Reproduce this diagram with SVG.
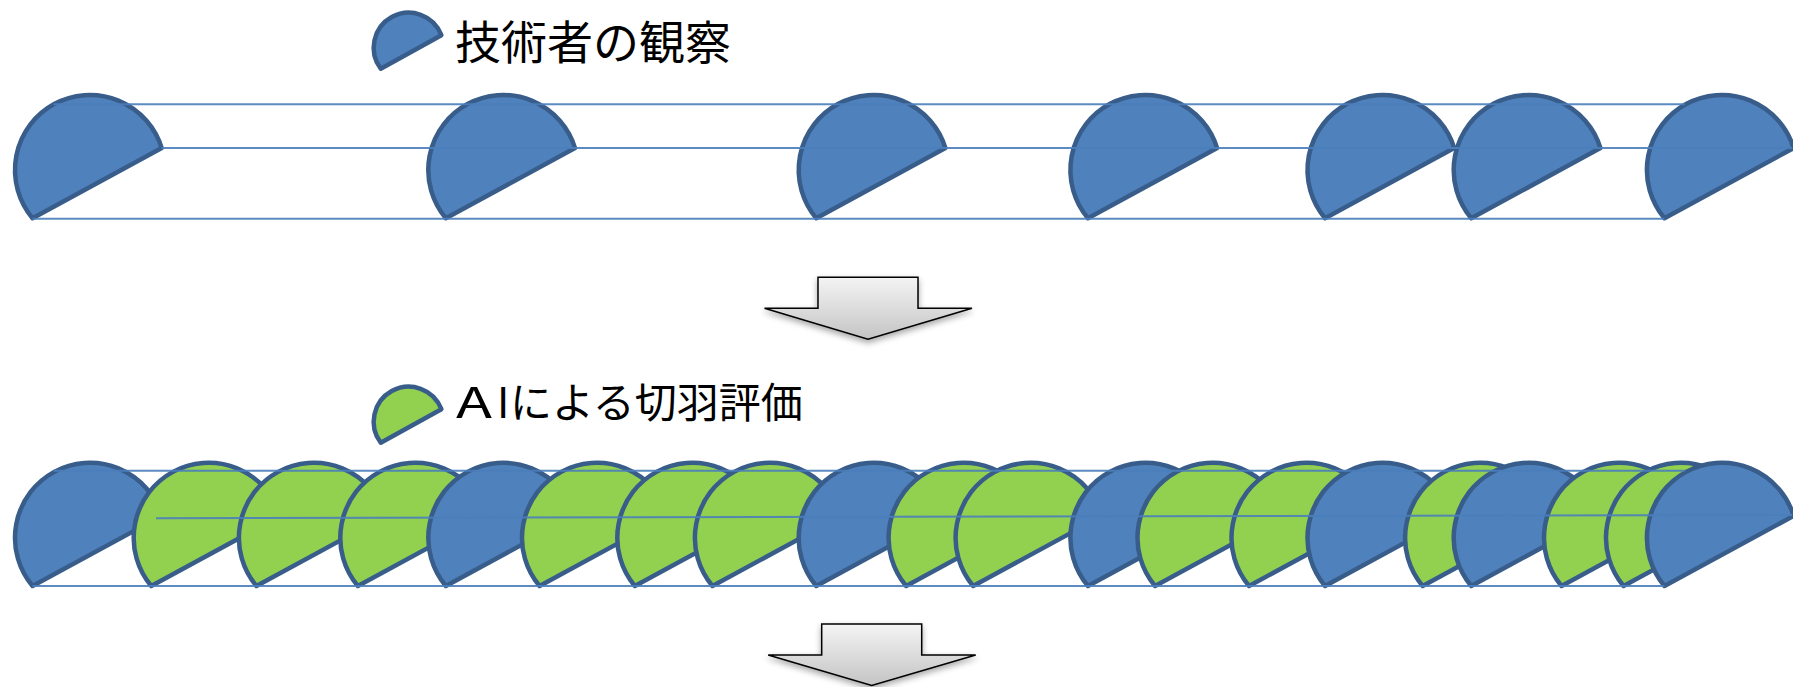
<svg xmlns="http://www.w3.org/2000/svg" xmlns:xlink="http://www.w3.org/1999/xlink" width="1793" height="687" viewBox="0 0 1793 687">
  <style>
    .shape { stroke: #385d8a; stroke-width: 4.5; stroke-linejoin: round; }
    .blue { fill: #4f81bd; }
    .green { fill: #92d050; }
    .conn { stroke: #4a7ebb; stroke-width: 2; fill: none; opacity: 0.9; }
    .label { font-family: "Noto Sans CJK JP", "Noto Sans", sans-serif; fill: #000; }
    .arrow { fill: url(#arrowGrad); stroke: #000; stroke-width: 1.5; stroke-linejoin: miter; filter: url(#shadow); }
  </style>
  <defs>
    <path id="chord" d="M71.72,-21.93 A75,75 0 1,0 -57.45,48.21 Z"/>
    <path id="chordSmall" d="M32.68,-12.54 A35,35 0 1,0 -27.95,21.06 Z"/>
    <linearGradient id="arrowGrad" x1="0" y1="0" x2="0" y2="1">
      <stop offset="0" stop-color="#f4f4f4"/>
      <stop offset="1" stop-color="#c4c4c4"/>
    </linearGradient>
    <filter id="shadow" x="-20%" y="-20%" width="140%" height="160%">
      <feDropShadow dx="0" dy="3" stdDeviation="3" flood-color="#000" flood-opacity="0.35"/>
    </filter>
  </defs>

  <!-- legends -->
  <g id="legend-observation">
    <use href="#chordSmall" class="shape blue" x="408.7" y="47.7"/>
    <text class="label" x="455" y="59" font-size="46">技術者の観察</text>
  </g>
  <g id="legend-ai">
    <use href="#chordSmall" class="shape green" x="408.7" y="421.7"/>
    <text class="label" y="417.5" font-size="42"><tspan x="456" textLength="36" lengthAdjust="spacingAndGlyphs">A</tspan><tspan x="497">I</tspan><tspan x="510">による切羽評価</tspan></text>
  </g>

  <!-- row 1: technician observation -->
  <g id="row1">
    <g id="r1-n1"><use href="#chord" class="shape blue" x="90" y="170"/></g>
    <g id="r1-n2"><use href="#chord" class="shape blue" x="503.3" y="170"/></g>
    <g id="r1-n3"><use href="#chord" class="shape blue" x="873.7" y="170"/></g>
    <g id="r1-n4"><use href="#chord" class="shape blue" x="1145.4" y="170"/></g>
    <g id="r1-n5"><use href="#chord" class="shape blue" x="1382.5" y="170"/></g>
    <g id="r1-n6"><use href="#chord" class="shape blue" x="1528.7" y="170"/></g>
    <g id="r1-n7"><use href="#chord" class="shape blue" x="1721.9" y="170"/></g>
  </g>

  <!-- row 2: AI evaluation -->
  <g id="row2">
    <g id="r2-n1"><use href="#chord" class="shape blue" x="90" y="537.8"/></g>
    <g id="r2-n2"><use href="#chord" class="shape green" x="208.7" y="537.8"/></g>
    <g id="r2-n3"><use href="#chord" class="shape green" x="313.9" y="537.8"/></g>
    <g id="r2-n4"><use href="#chord" class="shape green" x="415.3" y="537.8"/></g>
    <g id="r2-n5"><use href="#chord" class="shape blue" x="503.3" y="537.8"/></g>
    <g id="r2-n6"><use href="#chord" class="shape green" x="597" y="537.8"/></g>
    <g id="r2-n7"><use href="#chord" class="shape green" x="692.3" y="537.8"/></g>
    <g id="r2-n8"><use href="#chord" class="shape green" x="769.9" y="537.8"/></g>
    <g id="r2-n9"><use href="#chord" class="shape blue" x="873.7" y="537.8"/></g>
    <g id="r2-n10"><use href="#chord" class="shape green" x="963.6" y="537.8"/></g>
    <g id="r2-n11"><use href="#chord" class="shape green" x="1030.6" y="537.8"/></g>
    <g id="r2-n12"><use href="#chord" class="shape blue" x="1145.4" y="537.8"/></g>
    <g id="r2-n13"><use href="#chord" class="shape green" x="1212.5" y="537.8"/></g>
    <g id="r2-n14"><use href="#chord" class="shape green" x="1306.5" y="537.8"/></g>
    <g id="r2-n15"><use href="#chord" class="shape blue" x="1382.5" y="537.8"/></g>
    <g id="r2-n16"><use href="#chord" class="shape green" x="1480.1" y="537.8"/></g>
    <g id="r2-n17"><use href="#chord" class="shape blue" x="1528.7" y="537.8"/></g>
    <g id="r2-n18"><use href="#chord" class="shape green" x="1619" y="537.8"/></g>
    <g id="r2-n19"><use href="#chord" class="shape green" x="1681" y="537.8"/></g>
    <g id="r2-n20"><use href="#chord" class="shape blue" x="1721.9" y="537.8"/></g>
  </g>

  <!-- connectors (guide lines) -->
  <g id="connectors">
    <line class="conn" x1="53.6" y1="104.3" x2="1684.7" y2="104.3"/>
    <line class="conn" x1="161.6" y1="148" x2="1792" y2="148"/>
    <line class="conn" x1="32.5" y1="218.8" x2="1664.4" y2="218.8"/>
    <line class="conn" x1="53.6" y1="470.7" x2="1684.7" y2="470.7"/>
    <line class="conn" x1="156" y1="518.3" x2="1792" y2="515"/>
    <line class="conn" x1="32.5" y1="586" x2="1664.4" y2="586"/>
  </g>

  <!-- arrows -->
  <g id="arrow1">
    <polygon class="arrow" points="818,277.3 918,277.3 918,308.3 972,308.3 868,339.3 764.5,308.3 818,308.3"/>
  </g>
  <g id="arrow2">
    <polygon class="arrow" points="821.7,624 921.7,624 921.7,655 975.7,655 871.7,685.5 768.2,655 821.7,655"/>
  </g>
</svg>
